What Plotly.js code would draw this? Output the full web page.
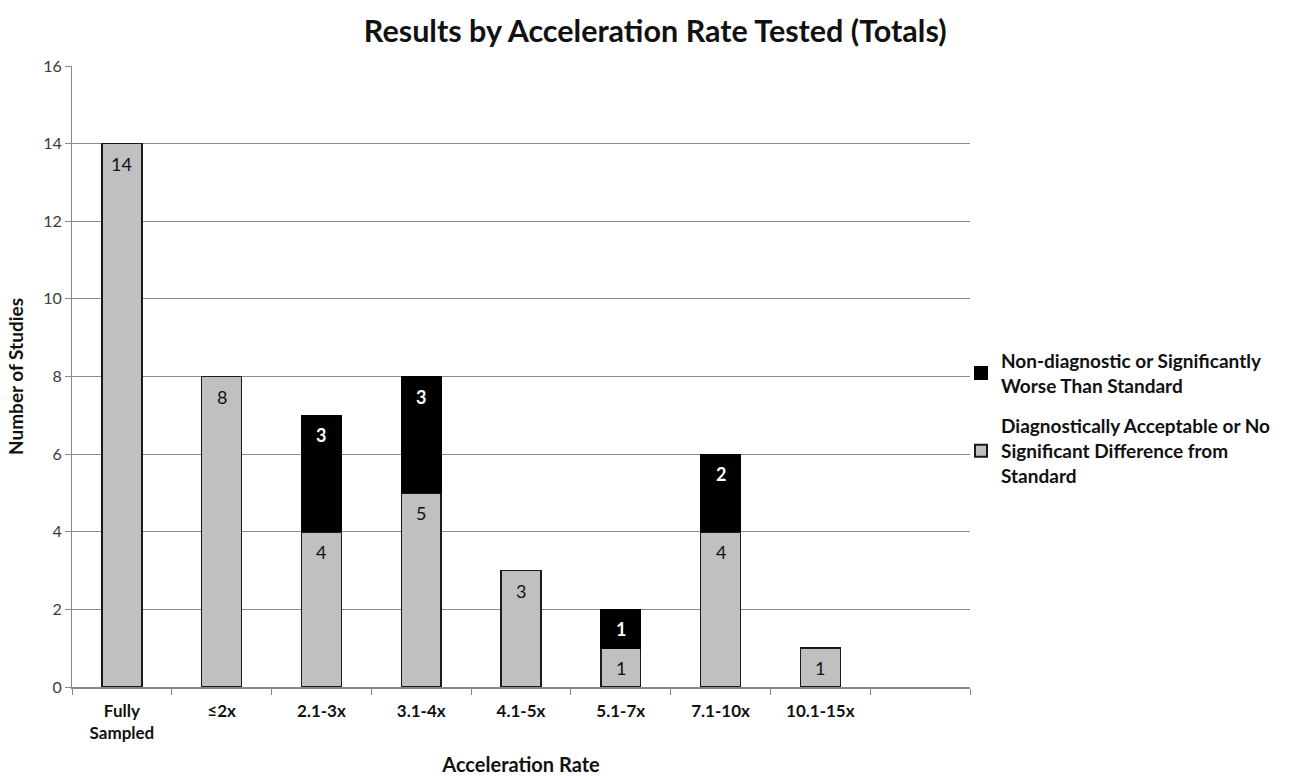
<!DOCTYPE html>
<html>
<head>
<meta charset="utf-8">
<script src="https://cdn.plot.ly/plotly-3.0.1.min.js"></script>
<style>html,body{margin:0;padding:0;background:#fff;}#chart{width:1300px;height:776px;}</style>
</head>
<body>
<div id="chart"></div>
<script>
const categories = ["Fully<br>Sampled", "≤2x", "2.1-3x", "3.1-4x", "4.1-5x", "5.1-7x", "7.1-10x", "10.1-15x", " "];
const acceptable = [14, 8, 4, 5, 3, 1, 4, 1, null];
const nonDiagnostic = [null, null, 3, 3, null, 1, 2, null, null];
const seriesNames = ["Diagnostically Acceptable or No<br>Significant Difference from<br>Standard", "Non-diagnostic or Significantly<br>Worse Than Standard"];

const FONT = "Lato, 'Open Sans', sans-serif";

const traces = [
  {
    type: "bar", x: categories, y: acceptable, name: seriesNames[0],
    marker: {color: "#c0c0c0", line: {color: "#1a1a1a", width: 1.5}},
    width: 0.4, legendgroup: "a", legendrank: 2, hoverinfo: "skip"
  },
  {
    type: "bar", x: categories, y: nonDiagnostic, name: seriesNames[1],
    marker: {color: "#000000", line: {color: "#000", width: 1}},
    width: 0.4, legendgroup: "b", legendrank: 1, hoverinfo: "skip"
  }
];

// data labels placed just below the top of each segment
const annotations = [];
categories.forEach((c, i) => {
  const a = acceptable[i];
  const n = nonDiagnostic[i];
  if (a != null) {
    annotations.push({x: c, y: a, xref: "x", yref: "y", text: String(a), showarrow: false,
      yshift: -20, font: {family: FONT, size: 18, color: "#111"}});
  }
  if (n != null) {
    annotations.push({x: c, y: (a || 0) + n, xref: "x", yref: "y", text: "<b>" + n + "</b>", showarrow: false,
      yshift: -20, font: {family: FONT, size: 18, color: "#fff"}});
  }
});

const layout = {
  width: 1300, height: 776,
  margin: {l: 72, r: 330, t: 66, b: 89},
  paper_bgcolor: "#fff", plot_bgcolor: "#fff",
  barmode: "stack",
  font: {family: FONT, color: "#222"},
  title: {text: "<b>Results by Acceleration Rate Tested (Totals)</b>", font: {family: FONT, size: 30.5, color: "#111"}, x: 0.504, xanchor: "center", y: 0.96, yanchor: "middle"},
  xaxis: {
    type: "category", range: [-0.5, 8.5],
    tickson: "boundaries", ticks: "outside", ticklen: 6, tickcolor: "#888", tickwidth: 1,
    showline: true, linecolor: "#888", linewidth: 1.5,
    showgrid: false,
    ticklabelstandoff: 8,
    tickfont: {family: FONT, size: 17, color: "#111", weight: "bold"},
    title: {text: "<b>Acceleration Rate</b>", font: {family: FONT, size: 20, color: "#111"}, standoff: 18},
    fixedrange: true
  },
  yaxis: {
    range: [0, 16], dtick: 2, tick0: 0,
    ticks: "outside", ticklen: 6, tickcolor: "#888",
    showline: true, linecolor: "#888", linewidth: 1,
    showgrid: true, gridcolor: "#8c8c8c", gridwidth: 1.2,
    zeroline: false,
    tickfont: {family: FONT, size: 16, color: "#3a3a3a"},
    title: {text: "<b>Number of Studies</b>", font: {family: FONT, size: 19, color: "#111"}, standoff: 14},
    fixedrange: true
  },
  annotations: annotations,
  showlegend: true,
  legend: {
    x: 0.99, xanchor: "left", y: 0.556, yanchor: "top",
    traceorder: "grouped", tracegroupgap: 13,
    font: {family: FONT, size: 19, color: "#111", weight: "bold"},
    itemsizing: "constant", bgcolor: "rgba(0,0,0,0)"
  }
};

Plotly.newPlot("chart", traces, layout, {displayModeBar: false, staticPlot: true});
</script>
</body>
</html>
